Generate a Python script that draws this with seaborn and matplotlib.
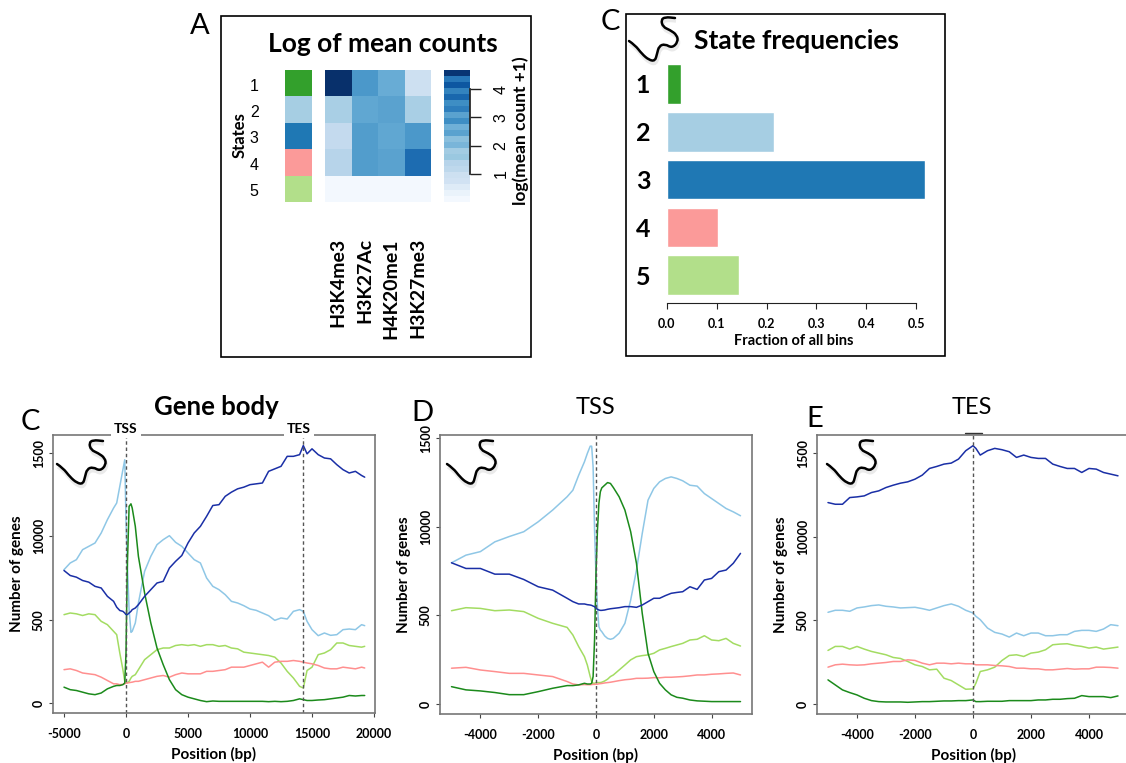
import numpy as np
import pandas as pd
import matplotlib
matplotlib.use('Agg')
import matplotlib.pyplot as plt
from matplotlib.colors import ListedColormap
from matplotlib.path import Path
from matplotlib.patches import PathPatch, Rectangle
from matplotlib.transforms import ScaledTranslation
import seaborn as sns

W, H = 1126, 763

# Panel A values
marks = ['H3K4me3', 'H3K27Ac', 'H4K20me1', 'H3K27me3']
states = ['1', '2', '3', '4', '5']
log_counts = [[4.7, 2.8, 2.4, 1.0],
              [1.6, 2.5, 2.6, 1.6],
              [1.2, 2.7, 2.5, 2.8],
              [1.4, 2.7, 2.6, 3.6],
              [0.1, 0.1, 0.1, 0.1]]
ramp_values = [4.6, 3.4, 4.0, 3.2, 3.7, 3.0, 3.3, 2.6, 3.0, 2.3, 2.6, 2.0, 2.2, 1.7, 1.8, 1.4, 1.3, 1.0, 0.9, 0.6, 0.3, 0.1]
ramp_ticks = [1, 2, 3, 4]

# Panel C values
state_fraction = [0.028, 0.215, 0.518, 0.102, 0.145]
state_colors = ['#33a02c', '#a6cee3', '#1f78b4', '#fb9a99', '#b2df8a']

# Line colours
line_colors = {'dark blue': '#1a2fa6', 'light blue': '#8fc7e6', 'light green': '#a3dc62',
               'red': '#ff8f8f', 'dark green': '#1b8a1b'}

# Gene body
gb_x = [-5000, -4500, -4000, -3500, -3000, -2500, -2000, -1500, -1000, -750, -500, -250, -100, 0, 100, 250, 400, 500, 750,
        1000, 1500, 2000, 2500, 3000, 3500, 4000, 4500, 5000, 5500, 6000, 6500, 7000, 7500, 8000, 8500, 9000, 9500,
        10000, 10500, 11000, 11500, 12000, 12500, 13000, 13500, 14000, 14300, 14600, 15000, 15500, 16000, 16500,
        17000, 17500, 18000, 18500, 19000, 19250]
gb_dark_blue = [795, 765, 755, 735, 725, 700, 690, 640, 610, 575, 555, 550, 540, 530, 530, 540, 550, 560, 570,
                590, 640, 680, 720, 730, 810, 850, 885, 960, 1020, 1060, 1120, 1185, 1190, 1240, 1265, 1285, 1295,
                1310, 1315, 1320, 1390, 1405, 1420, 1480, 1480, 1490, 1545, 1495, 1525, 1490, 1470, 1465,
                1430, 1400, 1380, 1390, 1365, 1355]
gb_light_blue = [800, 840, 860, 920, 940, 960, 1020, 1100, 1170, 1200, 1300, 1400, 1460, 1100, 850, 560, 424, 430, 480,
                 600, 790, 880, 950, 980, 1004, 964, 940, 900, 860, 840, 750, 700, 680, 650, 610, 600, 584,
                 564, 556, 540, 524, 496, 510, 504, 550, 560, 550, 490, 440, 404, 420, 406,
                 410, 440, 444, 440, 470, 464]
gb_light_green = [530, 540, 535, 525, 535, 530, 490, 470, 430, 410, 300, 200, 130, 130, 120, 130, 150, 160, 170,
                  200, 260, 290, 320, 330, 330, 345, 350, 345, 350, 340, 350, 350, 340, 345, 330, 325, 305,
                  300, 295, 290, 285, 275, 240, 190, 150, 100, 90, 195, 215, 290, 300, 320,
                  360, 360, 345, 340, 335, 340]
gb_red = [200, 205, 195, 180, 175, 170, 155, 135, 115, 115, 110, 112, 115, 120, 120, 122, 124, 125, 130,
          130, 140, 150, 160, 165, 155, 170, 180, 175, 175, 175, 190, 190, 195, 200, 215, 215, 215,
          225, 235, 245, 215, 245, 250, 250, 255, 250, 245, 240, 235, 225, 210, 205,
          205, 215, 210, 205, 215, 210]
gb_dark_green = [95, 80, 75, 65, 55, 50, 60, 85, 100, 105, 105, 110, 120, 300, 800, 1180, 1195, 1170, 1060,
                 880, 660, 480, 330, 230, 140, 80, 50, 35, 25, 15, 8, 12, 10, 10, 10, 10, 10,
                 10, 10, 10, 8, 10, 8, 10, 15, 25, 20, 15, 15, 18, 20, 25,
                 30, 35, 45, 42, 45, 45]

# TSS
tss_x = [-5000, -4500, -4000, -3500, -3000, -2500, -2000, -1500, -1000, -800, -600, -400, -300, -200, -150, -100, -50,
         0, 50, 100, 150, 200, 300, 400, 500, 600, 800, 1000, 1200, 1400, 1600, 1800, 2000, 2200, 2400, 2600, 2800, 3000,
         3250, 3500, 3750, 4000, 4250, 4500, 4750, 5000]
tss_dark_blue = [797, 765, 765, 733, 733, 703, 662, 643, 597, 578, 565, 565, 561, 559, 557, 553, 550,
                 540, 535, 531, 529, 529, 531, 535, 538, 540, 544, 550, 550, 546, 559, 578, 597, 597, 612, 625, 630, 634,
                 662, 647, 700, 709, 747, 756, 794, 850]
tss_light_blue = [797, 840, 860, 915, 945, 972, 1028, 1094, 1169, 1206, 1290, 1366, 1413, 1454, 1454, 1337, 981,
                  718, 550, 437, 418, 409, 385, 371, 366, 371, 400, 456, 587, 756, 962, 1150, 1216, 1253, 1272, 1281, 1272, 1259,
                  1234, 1229, 1187, 1159, 1131, 1103, 1084, 1062]
tss_light_green = [527, 544, 540, 527, 531, 522, 484, 456, 433, 390, 325, 268, 221, 156, 128, 118, 118,
                   122, 122, 122, 122, 124, 131, 141, 156, 165, 193, 221, 250, 268, 274, 278, 287, 306, 315, 325, 334, 343,
                   362, 366, 386, 362, 358, 371, 343, 328]
tss_red = [203, 208, 193, 184, 174, 174, 165, 156, 128, 114, 109, 111, 110, 110, 111, 112, 112,
           113, 113, 115, 116, 117, 120, 122, 124, 127, 133, 138, 141, 146, 146, 147, 150, 149, 152, 152, 154, 156,
           160, 165, 165, 169, 171, 174, 176, 165]
tss_dark_green = [99, 81, 75, 66, 54, 54, 71, 90, 105, 105, 109, 118, 114, 114, 118, 156, 362,
                  737, 981, 1131, 1197, 1219, 1234, 1249, 1244, 1221, 1169, 1094, 972, 794, 512, 287, 184, 118, 81, 53, 39, 34,
                  24, 19, 17, 15, 15, 15, 15, 15]

# TES
tes_x = [-5000, -4750, -4500, -4250, -4000, -3750, -3500, -3250, -3000, -2750, -2500, -2250, -2000, -1750, -1500, -1250,
         -1000, -750, -500, -250, 0, 100, 250, 500, 750, 1000, 1250, 1500, 1750, 2000, 2250, 2500, 2750, 3000, 3250, 3500,
         3750, 4000, 4250, 4500, 4750, 5000]
tes_dark_blue = [1204, 1194, 1194, 1234, 1238, 1244, 1264, 1274, 1294, 1308, 1320, 1328, 1344, 1368, 1408, 1420,
                 1434, 1440, 1464, 1514, 1544, 1528, 1488, 1514, 1528, 1520, 1508, 1474, 1488, 1474, 1468, 1468, 1434, 1420, 1408, 1408,
                 1384, 1408, 1404, 1384, 1374, 1364]
tes_light_blue = [548, 560, 560, 554, 574, 580, 588, 592, 584, 580, 574, 576, 578, 570, 560, 574,
                  588, 598, 584, 560, 544, 524, 504, 454, 428, 418, 400, 424, 408, 424, 424, 408, 408, 414, 414, 434,
                  440, 440, 434, 448, 474, 468]
tes_light_green = [320, 344, 344, 328, 344, 328, 314, 304, 294, 278, 272, 254, 234, 224, 204, 208,
                   154, 140, 114, 88, 90, 124, 194, 204, 220, 260, 290, 294, 284, 304, 310, 324, 354, 358, 360, 350,
                   344, 334, 340, 328, 334, 340]
tes_red = [220, 234, 238, 234, 232, 234, 240, 244, 248, 254, 254, 264, 260, 244, 234, 244,
           244, 240, 244, 240, 240, 234, 234, 234, 230, 228, 224, 214, 214, 210, 210, 204, 204, 208, 212, 208,
           210, 210, 220, 220, 218, 214]
tes_dark_green = [144, 114, 84, 68, 54, 34, 20, 14, 12, 12, 12, 10, 12, 14, 14, 16,
                  18, 18, 20, 20, 24, 14, 14, 16, 16, 16, 20, 20, 20, 20, 24, 24, 28, 28, 32, 34,
                  50, 44, 44, 44, 38, 48]

y_ticks = [0, 500, 1000, 1500]
y_tick_labels = ['0', '500', '10000', '1500']  # the 10000 is what the figure prints

# snake icon outline, pixels
snake_x = [57, 63, 70, 77, 83, 85, 87, 93, 100, 106, 105, 98, 91, 89, 93, 103]
snake_y = [464, 468, 477, 483, 484, 477, 469, 467, 471, 465, 458, 453, 450, 443, 440, 441]

sns.set_theme(style='white', rc={'text.color': 'black', 'axes.labelcolor': 'black',
                                 'xtick.color': 'black', 'ytick.color': 'black'})
plt.rcParams['font.family'] = ['Lato', 'DejaVu Sans']

fig = plt.figure(figsize=(W / 100, H / 100), dpi=100)


def px_axes(left, top, right, bottom):
    return fig.add_axes([left / W, 1 - bottom / H, (right - left) / W, (bottom - top) / H])


# --- Panel A ---
ax_state = px_axes(285, 70, 312, 202)
sns.heatmap(np.arange(5).reshape(5, 1), cmap=ListedColormap(state_colors), cbar=False, ax=ax_state,
            xticklabels=False, yticklabels=False)
ax_state.set_yticks(np.arange(5) + 0.55)
ax_state.set_yticklabels(states, family='Liberation Sans', fontsize=11.5, rotation=0)
ax_state.tick_params(axis='y', length=0, pad=19)

ax_heat = px_axes(325, 70, 431, 202)
sns.heatmap(pd.DataFrame(log_counts, index=states, columns=marks), cmap='Blues', vmin=0, vmax=4.7, cbar=False,
            ax=ax_heat, yticklabels=False)
ax_heat.tick_params(axis='x', length=0, pad=26, labelsize=14, labelrotation=90)
for t in ax_heat.get_xticklabels():
    t.set_va('top')
    t.set_fontweight('bold')

ax_ramp = px_axes(444, 70, 470, 202)
sns.heatmap(np.array(ramp_values).reshape(-1, 1), cmap='Blues', vmin=0, vmax=4.7, cbar=False, ax=ax_ramp,
            xticklabels=False, yticklabels=False)

ax_ramp_axis = px_axes(470, 70, 481, 202)
ax_ramp_axis.set_ylim(1 - 28 / 28.33, 1 + 104 / 28.33)
ax_ramp_axis.set_xticks([])
ax_ramp_axis.set_yticks(ramp_ticks)
ax_ramp_axis.set_yticklabels(ramp_ticks, rotation=90, va='center', family='Liberation Sans', fontsize=11.5)
ax_ramp_axis.patch.set_alpha(0)
for s in ax_ramp_axis.spines.values():
    s.set_visible(False)
ax_ramp_axis.spines['left'].set_visible(True)
ax_ramp_axis.spines['left'].set_color('#222222')
ax_ramp_axis.spines['left'].set_bounds(1, 4)
ax_ramp_axis.tick_params(axis='y', right=False, left=True, direction='in', labelright=True, labelleft=False,
                         length=8, width=1, color='#222222', pad=9)

# --- Panel C, frequencies ---
ax_bar = px_axes(667, 60, 945, 303)
freq = pd.DataFrame({'state': states, 'fraction': state_fraction})
sns.barplot(data=freq, x='fraction', y='state', hue='state', palette=state_colors, legend=False, width=0.83,
            saturation=1, ax=ax_bar)
ax_bar.set_xlim(0, 278 / 498)
ax_bar.set_ylim(4.58, -0.5)
ax_bar.set_xticks([0, 0.1, 0.2, 0.3, 0.4, 0.5])
ax_bar.set_xticklabels(['0.0', '0.1', '0.2', '0.3', '0.4', '0.5'], fontsize=9, fontweight='bold')
ax_bar.set_xlabel('Fraction of all bins', fontsize=10.5, fontweight='bold', labelpad=3, x=0.455)
ax_bar.set_ylabel('')
ax_bar.tick_params(axis='y', length=0, pad=12, labelsize=18)
ax_bar.tick_params(axis='x', length=4, width=0.8, color='#222222', bottom=True, pad=7)
for t in ax_bar.get_yticklabels():
    t.set_fontweight('bold')
sns.despine(ax=ax_bar, left=True, top=True, right=True)
ax_bar.spines['bottom'].set_bounds(0, 0.5)
ax_bar.spines['bottom'].set_color('#222222')
ax_bar.spines['bottom'].set_linewidth(0.8)


# --- Lower panels ---
def line_panel(box, xlim, ylim, x, series, xticks, marks_at, label_dy):
    ax = px_axes(*box)
    for name, vals in series.items():
        df = pd.DataFrame({'pos': x, 'n': vals})
        sns.lineplot(data=df, x='pos', y='n', color=line_colors[name], lw=1.1, errorbar=None, ax=ax)
    for m in marks_at:
        ax.axvline(m, color='#555555', ls=(0, (2.5, 2)), lw=1)
    ax.set_xlim(*xlim)
    ax.set_ylim(*ylim)
    ax.set_xticks(xticks)
    ax.set_xticklabels(xticks, fontsize=9, fontweight='bold')
    ax.set_yticks(y_ticks)
    ax.set_yticklabels(y_tick_labels, fontsize=9, fontweight='bold', rotation=90, va='center')
    # the printed labels sit a little off their ticks
    for lab, dy in zip(ax.get_yticklabels(), label_dy):
        lab.set_transform(lab.get_transform() + ScaledTranslation(0, -dy / 100, fig.dpi_scale_trans))
    ax.set_xlabel('Position (bp)', fontsize=11, fontweight='bold', labelpad=5)
    ax.set_ylabel('Number of genes', fontsize=11, fontweight='bold', labelpad=6)
    ax.tick_params(axis='both', length=3, width=0.8, color='#444444', left=True, bottom=True, pad=3)
    ax.tick_params(axis='x', pad=8)
    for s in ax.spines.values():
        s.set_color('#777777')
        s.set_linewidth(1.2)
    return ax


line_panel((53, 435, 375, 713), (-5887, 20080), (-60, 1608), gb_x,
           {'light blue': gb_light_blue, 'light green': gb_light_green, 'red': gb_red,
            'dark green': gb_dark_green, 'dark blue': gb_dark_blue},
           [-5000, 0, 5000, 10000, 15000, 20000], [0, 14300], [-3, 3, 0, 3])
line_panel((440, 435, 752, 714), (-5398, 5398), (-55, 1517), tss_x,
           {'light blue': tss_light_blue, 'light green': tss_light_green, 'red': tss_red,
            'dark green': tss_dark_green, 'dark blue': tss_dark_blue},
           [-4000, -2000, 0, 2000, 4000], [0], [-6, 0, 0, 7])
line_panel((817, 435, 1130, 714), (-5379, 5414), (-60, 1608), tes_x,
           {'light blue': tes_light_blue, 'light green': tes_light_green, 'red': tes_red,
            'dark green': tes_dark_green, 'dark blue': tes_dark_blue},
           [-4000, -2000, 0, 2000, 4000], [0], [0, 9, 4, 5])

# --- Overlay in pixel coordinates: frames, labels, snakes ---
over = fig.add_axes([0, 0, 1, 1])
over.set_xlim(0, W)
over.set_ylim(H, 0)
over.axis('off')
over.patch.set_alpha(0)

over.add_patch(Rectangle((221, 16), 310, 341, fill=False, ec='black', lw=1.2))
over.add_patch(Rectangle((626, 14), 319, 342, fill=False, ec='black', lw=1.2))

for label, x, y in [('A', 200, 26), ('C', 610, 22), ('C', 30, 422), ('D', 422, 413), ('E', 815, 419)]:
    over.text(x, y, label, fontsize=21, ha='center', va='center')

over.text(383, 44, 'Log of mean counts', fontsize=19, fontweight='bold', ha='center', va='center')
over.text(796, 41, 'State frequencies', fontsize=19, fontweight='bold', ha='center', va='center')
over.text(216, 407, 'Gene body', fontsize=18.5, fontweight='bold', ha='center', va='center')
over.text(596, 407, 'TSS', fontsize=17, ha='center', va='center')
over.text(972, 407, 'TES', fontsize=17, ha='center', va='center')
over.text(126, 429, 'TSS', fontsize=10, fontweight='bold', ha='center', va='center',
          bbox=dict(fc='white', ec='none', pad=2))
over.text(299, 429, 'TES', fontsize=10, fontweight='bold', ha='center', va='center',
          bbox=dict(fc='white', ec='none', pad=2))
over.plot([965, 982], [433, 433], color='#333333', lw=1)
over.text(240, 135, 'States', fontsize=12, fontweight='bold', rotation=90, ha='center', va='center')
over.text(521, 131, 'log(mean count +1)', fontsize=12.5, fontweight='bold', rotation=90, ha='center', va='center')


def snake(dx, dy):
    pts = np.column_stack([np.array(snake_x) + dx, np.array(snake_y) + dy])
    # quadratic segments through the midpoints so the outline comes out smooth
    verts = [pts[0]]
    codes = [Path.MOVETO]
    for i in range(1, len(pts) - 1):
        verts += [pts[i], (pts[i] + pts[i + 1]) / 2]
        codes += [Path.CURVE3, Path.CURVE3]
    verts.append(pts[-1])
    codes.append(Path.LINETO)
    over.add_patch(PathPatch(Path(np.array(verts) + [1, 3], codes), fc='none', ec='#cccccc', lw=2.5, alpha=0.4))
    over.add_patch(PathPatch(Path(verts, codes), fc='none', ec='black', lw=1.8, capstyle='round'))


snake(0, 0)
snake(390, 0)
snake(770, 0)
snake(572, -423)

fig.savefig('out.png', dpi=100)
